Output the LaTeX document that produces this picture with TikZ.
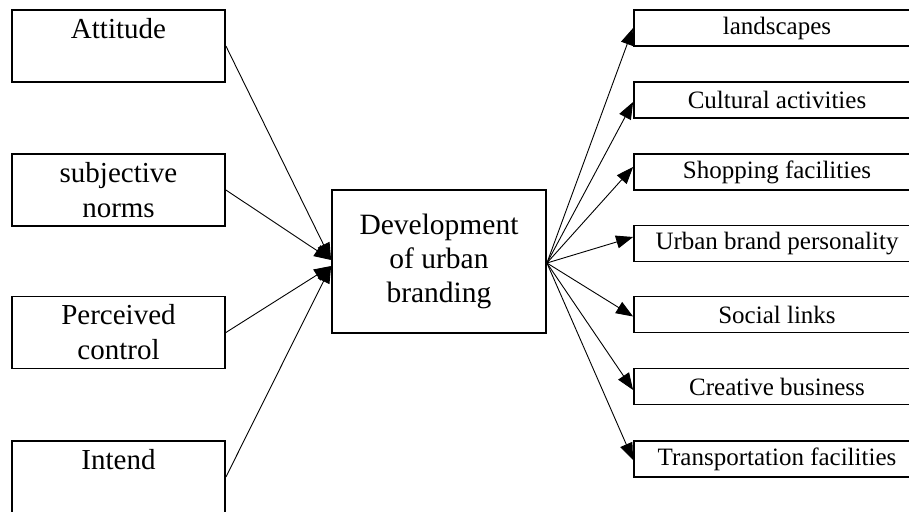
\documentclass[tikz,border=0pt]{standalone}
\usepackage{fontspec}
\setmainfont{Liberation Serif}
\usetikzlibrary{arrows.meta,positioning}

\begin{document}
\begin{tikzpicture}[x=1pt,y=-1pt,
  box/.style={draw, line width=1.8pt, inner sep=0pt, align=center},
  factor/.style={box, minimum width=213pt, minimum height=72pt, font=\fontsize{29}{35}\selectfont},
  attr/.style={box, minimum width=286pt, minimum height=36pt, font=\fontsize{25}{30}\selectfont},
  link/.style={line width=0.9pt, -{Triangle[length=17pt,width=13pt]}}]
  \useasboundingbox (0,0) rectangle (909,511);
  \clip (0,0) rectangle (909,511);
  % influencing factors
  \node[factor] (att) at (118.5,46) {Attitude\\~};
  \node[factor] (subj) at (118.5,190) {subjective\\norms};
  \node[factor] (perc) at (118.5,332.5) {Perceived\\control};
  \node[factor] (intd) at (118.5,477) {Intend\\~};
  \node[box, minimum width=214pt, minimum height=143pt, font=\fontsize{29.5}{34}\selectfont] (dev) at (439,261.5) {Development\\of urban\\branding};
  % city attributes
  \foreach \name/\y/\txt in {land/28/landscapes, cult/100/Cultural activities, shop/172/Shopping facilities,
      urb/243.5/Urban brand personality, soc/314.5/Social links, crea/386.5/Creative business,
      trans/459/Transportation facilities}
    \node[attr] (\name) at (777,\y) {\txt};
  \foreach \name/\dy in {att/1.5, subj/1.5, perc/-4.5, intd/-4.5}
    \draw[link] (\name.east) -- ([yshift=\dy pt]dev.west);
  \foreach \name/\dy in {land/0, cult/-2, shop/5, urb/6.5, soc/-2, crea/-3.5, trans/-1}
    \draw[link] ([yshift=-1.5pt]dev.east) -- ([yshift=\dy pt]\name.west);
\end{tikzpicture}
\end{document}
